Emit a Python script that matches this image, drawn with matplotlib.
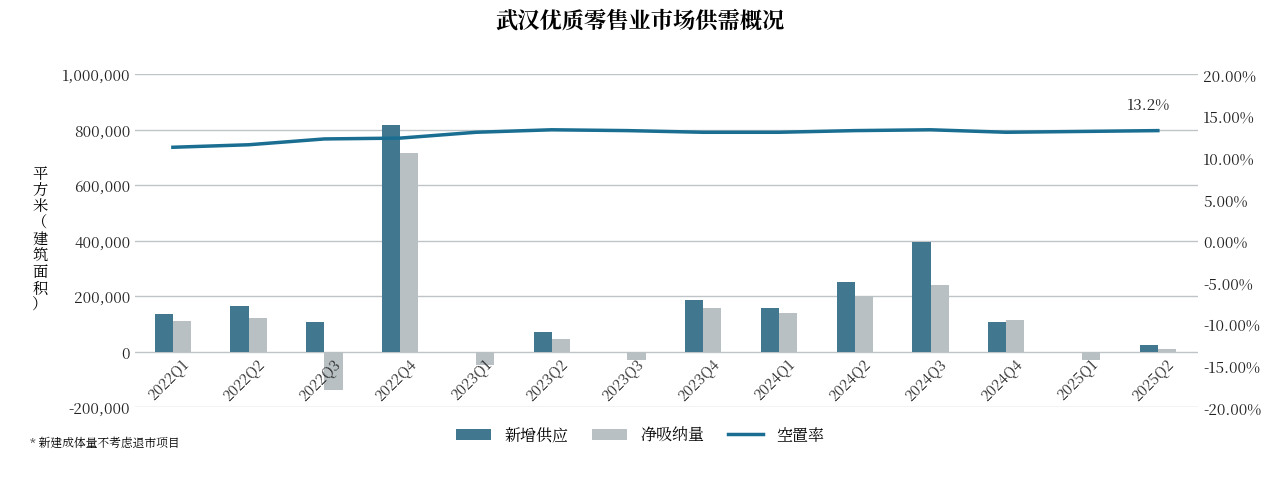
import matplotlib
matplotlib.use("Agg")
import matplotlib.pyplot as plt
from matplotlib import font_manager as fm
import numpy as np
from matplotlib.ticker import FuncFormatter
import glob

cjk = None
for f in fm.findSystemFonts():
    if "CJK" in f and ("Regular" in f or "CJK-" in f or "SC" in f):
        cjk = f
        break
if cjk is None:
    for f in glob.glob("/usr/share/fonts/**/*CJK*", recursive=True):
        cjk = f; break
if cjk:
    fm.fontManager.addfont(cjk)
    name = fm.FontProperties(fname=cjk).get_name()
    plt.rcParams["font.family"] = [name, "DejaVu Sans"]

quarters = ["2022Q1","2022Q2","2022Q3","2022Q4","2023Q1","2023Q2","2023Q3","2023Q4",
            "2024Q1","2024Q2","2024Q3","2024Q4","2025Q1","2025Q2"]
supply = [135000,165000,105000,815000,0,70000,0,185000,158000,250000,395000,108000,0,22000]
absorption = [110000,122000,-140000,715000,-50000,45000,-30000,155000,140000,200000,238000,115000,-30000,8000]
vacancy = [11.2,11.5,12.2,12.3,13.0,13.3,13.2,13.0,13.0,13.2,13.3,13.0,13.1,13.2]

fig = plt.figure(figsize=(12.8,4.85), dpi=100)
ax = fig.add_axes([135/1280, 1-408/485, (1198-135)/1280, (408-75)/485])
x = np.arange(len(quarters))
w = 0.24
ax.bar(x-w/2, supply, w, color="#41788f", label="新增供应", zorder=3)
ax.bar(x+w/2, absorption, w, color="#b8c0c3", label="净吸纳量", zorder=3)
ax.set_ylim(-200000,1000000)
ax.set_yticks(np.arange(-200000,1000001,200000))
ax.yaxis.set_major_formatter(FuncFormatter(lambda v,p: f"{int(v):,}"))
ax.grid(axis="y", color="#bfc4c7", lw=1, zorder=0)
ax.set_xlim(-0.5, len(quarters)-0.47)
ax.set_xticks(x)
ax.set_xticklabels([])
for xi, q in zip(x, quarters):
    ax.text(xi+0.1, -12000, q, rotation=45, ha="right", va="top", rotation_mode="anchor",
            fontsize=10.5, color="#333", zorder=5)
for s in ax.spines.values(): s.set_visible(False)
ax.tick_params(length=0, labelsize=11, colors="#222")

ax2 = ax.twinx()
ax2.plot(x, vacancy, color="#1a6e91", lw=2.5, label="空置率", zorder=4)
ax2.set_ylim(-20,20)
ax2.set_yticks(np.arange(-20,20.1,5))
ax2.yaxis.set_major_formatter(FuncFormatter(lambda v,p: f"{v:.2f}%"))
for s in ax2.spines.values(): s.set_visible(False)
ax2.tick_params(length=0, labelsize=11, colors="#222")
ax2.annotate(f"{vacancy[-1]}%", (x[-1], vacancy[-1]), xytext=(-22,16), textcoords="offset points", fontsize=11, color="#222")

fig.text(0.5, 0.955, "武汉优质零售业市场供需概况", ha="center", va="center", fontsize=16, fontweight="bold")
fig.text(40/1280, 1-240/485, "\n".join("平方米（建筑面积）"), ha="center", va="center", fontsize=11, linespacing=1.0)
fig.text(30/1280, 1-444/485, "* 新建成体量不考虑退市项目", fontsize=8.5, va="center")

h1,l1 = ax.get_legend_handles_labels()
h2,l2 = ax2.get_legend_handles_labels()
fig.legend(h1+h2, l1+l2, loc="center", bbox_to_anchor=(0.5, 1-436/485), ncol=3, frameon=False, fontsize=11.5, handlelength=2.2, columnspacing=1.5)
fig.savefig("out.png", dpi=100)
